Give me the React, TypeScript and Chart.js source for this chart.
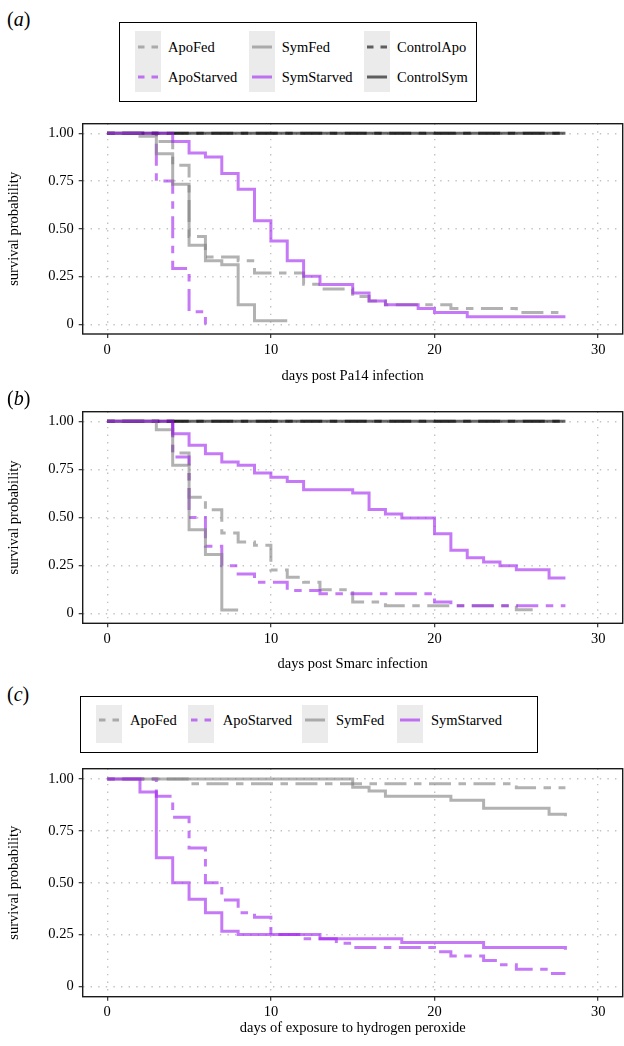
import React, { useEffect, useRef } from "react";
import { Chart, registerables } from "chart.js";

Chart.register(...registerables);

const FONT = '"Liberation Serif", "Times New Roman", serif';

// ---------- axes ----------
const xTicks = [0, 10, 20, 30];
const yTicks = [0, 0.25, 0.5, 0.75, 1];
const yTickLabels = ["0", "0.25", "0.50", "0.75", "1.00"];

// ---------- panel (a): Pa14 ----------
const aApoFedT = [0, 3, 4, 5, 6, 8, 9, 12, 13, 15, 16, 17, 21, 25, 28];
const aApoFedS = [1, 0.957, 0.833, 0.46, 0.353, 0.333, 0.269, 0.21, 0.186, 0.146, 0.122, 0.103, 0.083, 0.062, 0.062];
const aApoStarvedT = [0, 3, 4, 5, 6];
const aApoStarvedS = [1, 0.75, 0.293, 0.066, 0];
const aSymFedT = [0, 2, 3, 4, 5, 6, 7, 8, 9, 11];
const aSymFedS = [1, 0.984, 0.893, 0.733, 0.414, 0.333, 0.312, 0.103, 0.019, 0.019];
const aSymStarvedT = [0, 4, 5, 6, 7, 8, 9, 10, 11, 12, 13, 15, 16, 17, 19, 20, 22, 28];
const aSymStarvedS = [1, 0.957, 0.897, 0.876, 0.79, 0.707, 0.543, 0.436, 0.333, 0.252, 0.209, 0.164, 0.122, 0.103, 0.083, 0.062, 0.04, 0.04];
const aControlApoT = [0, 28];
const aControlApoS = [1, 1];
const aControlSymT = [0, 28];
const aControlSymS = [1, 1];

// ---------- panel (b): Smarc ----------
const bApoFedT = [0, 4, 5, 6, 7, 8, 9, 10, 11, 12, 13, 15, 17, 25, 26];
const bApoFedS = [1, 0.835, 0.605, 0.54, 0.42, 0.373, 0.356, 0.227, 0.189, 0.164, 0.124, 0.061, 0.041, 0.02, 0.02];
const bApoStarvedT = [0, 4, 5, 6, 7, 8, 9, 11, 13, 20, 21, 28];
const bApoStarvedS = [1, 0.814, 0.5, 0.351, 0.249, 0.206, 0.164, 0.121, 0.104, 0.061, 0.041, 0.041];
const bSymFedT = [0, 3, 4, 5, 6, 7, 8];
const bSymFedS = [1, 0.956, 0.772, 0.436, 0.308, 0.019, 0.019];
const bSymStarvedT = [0, 4, 5, 6, 7, 8, 9, 10, 11, 12, 15, 16, 17, 18, 20, 21, 22, 23, 24, 25, 27, 28];
const bSymStarvedS = [1, 0.935, 0.876, 0.831, 0.789, 0.772, 0.731, 0.709, 0.687, 0.644, 0.627, 0.542, 0.518, 0.497, 0.416, 0.33, 0.291, 0.269, 0.249, 0.228, 0.186, 0.186];
const bControlApoT = [0, 28];
const bControlApoS = [1, 1];
const bControlSymT = [0, 28];
const bControlSymS = [1, 1];

// ---------- panel (c): hydrogen peroxide ----------
const cApoFedT = [0, 5, 25, 28];
const cApoFedS = [1, 0.977, 0.958, 0.958];
const cApoStarvedT = [0, 3, 4, 5, 6, 7, 8, 9, 10, 12, 14, 15, 20, 21, 23, 24, 25, 27, 28];
const cApoStarvedS = [1, 0.917, 0.816, 0.667, 0.5, 0.417, 0.355, 0.333, 0.25, 0.23, 0.208, 0.1875, 0.167, 0.146, 0.125, 0.104, 0.083, 0.0625, 0.0625];
const cSymFedT = [0, 15, 16, 17, 21, 23, 27, 28];
const cSymFedS = [1, 0.96, 0.942, 0.917, 0.898, 0.859, 0.83, 0.82];
const cSymStarvedT = [0, 2, 3, 4, 5, 6, 7, 8, 13, 18, 23, 28];
const cSymStarvedS = [1, 0.9375, 0.62, 0.5, 0.42, 0.355, 0.266, 0.25, 0.23, 0.211, 0.1875, 0.177];

// ---------- styles ----------
const GRAY = "rgba(127,127,127,0.6)";
const PURPLE = "rgba(160,32,240,0.6)";
const DARK = "rgba(0,0,0,0.6)";
const TWODASH = [7.5, 7.5, 22, 7.5];
const SOLID: number[] = [];

type Series = { name: string; t: number[]; s: number[]; color: string; dash: number[] };

const mk = (name: string, t: number[], s: number[], color: string, dash: number[]): Series => ({ name, t, s, color, dash });

const seriesA: Series[] = [
  mk("ApoFed", aApoFedT, aApoFedS, GRAY, TWODASH),
  mk("ApoStarved", aApoStarvedT, aApoStarvedS, PURPLE, TWODASH),
  mk("ControlApo", aControlApoT, aControlApoS, DARK, TWODASH),
  mk("ControlSym", aControlSymT, aControlSymS, DARK, SOLID),
  mk("SymFed", aSymFedT, aSymFedS, GRAY, SOLID),
  mk("SymStarved", aSymStarvedT, aSymStarvedS, PURPLE, SOLID),
];
const seriesB: Series[] = [
  mk("ApoFed", bApoFedT, bApoFedS, GRAY, TWODASH),
  mk("ApoStarved", bApoStarvedT, bApoStarvedS, PURPLE, TWODASH),
  mk("ControlApo", bControlApoT, bControlApoS, DARK, TWODASH),
  mk("ControlSym", bControlSymT, bControlSymS, DARK, SOLID),
  mk("SymFed", bSymFedT, bSymFedS, GRAY, SOLID),
  mk("SymStarved", bSymStarvedT, bSymStarvedS, PURPLE, SOLID),
];
const seriesC: Series[] = [
  mk("ApoFed", cApoFedT, cApoFedS, GRAY, TWODASH),
  mk("ApoStarved", cApoStarvedT, cApoStarvedS, PURPLE, TWODASH),
  mk("SymFed", cSymFedT, cSymFedS, GRAY, SOLID),
  mk("SymStarved", cSymStarvedT, cSymStarvedS, PURPLE, SOLID),
];

const framePlugin = {
  id: "frame",
  afterDraw(chart: any) {
    const { ctx, chartArea: a } = chart;
    ctx.save();
    ctx.setLineDash([]);
    ctx.strokeStyle = "#1a1a1a";
    ctx.lineWidth = 1.4;
    ctx.strokeRect(a.left, a.top, a.right - a.left, a.bottom - a.top);
    ctx.restore();
  },
};

type PanelProps = {
  top: number;
  height: number;
  chartTop: number;
  chartBottom: number;
  series: Series[];
  xTitle: string;
};

const CHART_LEFT = 82.7;
const CHART_RIGHT = 622.7;
const FS = 14.5;

function SurvivalPanel({ top, height, chartTop, chartBottom, series, xTitle }: PanelProps) {
  const ref = useRef<HTMLCanvasElement>(null);
  useEffect(() => {
    const font = { family: FONT, size: FS };
    const grid = {
      color: "#c2c2c2",
      lineWidth: 1.4,
      drawTicks: true,
      tickLength: 4,
      tickColor: "#222",
      tickWidth: 1.1,
      tickBorderDash: [],
    };
    const chart = new Chart(ref.current as HTMLCanvasElement, {
      type: "line",
      data: {
        datasets: series
          .slice()
          .reverse()
          .map((s) => ({
            label: s.name,
            data: s.t.map((t, i) => ({ x: t, y: s.s[i] })),
            borderColor: s.color,
            backgroundColor: s.color,
            borderWidth: 3,
            borderDash: s.dash,
            borderCapStyle: "butt",
            borderJoinStyle: "miter",
            stepped: true,
            pointRadius: 0,
            fill: false,
            tension: 0,
          })),
      },
      options: {
        animation: false,
        responsive: false,
        maintainAspectRatio: false,
        devicePixelRatio: 1,
        events: [],
        layout: { padding: { top: chartTop - top, right: 624 - CHART_RIGHT, left: 0, bottom: 0 } },
        plugins: { legend: { display: false }, tooltip: { enabled: false }, title: { display: false } },
        scales: {
          x: {
            type: "linear",
            min: -1.5,
            max: 31.5,
            afterBuildTicks: (s: any) => {
              s.ticks = xTicks.map((v) => ({ value: v }));
            },
            afterFit: (s: any) => {
              s.height = top + height - chartBottom;
            },
            ticks: { font, color: "#000", padding: 3, maxRotation: 0, autoSkip: false, callback: (v: any) => String(v) },
            grid,
            border: { display: false, dash: [1.4, 6.2] },
            title: { display: true, text: xTitle, font, color: "#000", padding: { top: 0, bottom: 2.3 } },
          },
          y: {
            type: "linear",
            min: -0.05,
            max: 1.05,
            afterBuildTicks: (s: any) => {
              s.ticks = yTicks.map((v) => ({ value: v }));
            },
            afterFit: (s: any) => {
              s.width = CHART_LEFT;
            },
            ticks: {
              font,
              color: "#000",
              padding: 5,
              autoSkip: false,
              callback: (v: any) => yTickLabels[yTicks.indexOf(v)] ?? "",
            },
            grid,
            border: { display: false, dash: [1.4, 6.2] },
            title: { display: true, text: "survival probability", font, color: "#000", padding: { top: 5.3, bottom: 0 } },
          },
        },
      } as any,
      plugins: [framePlugin],
    });
    return () => chart.destroy();
  }, []);
  return (
    <canvas
      ref={ref}
      width={624}
      height={height}
      style={{ position: "absolute", left: 0, top, width: 624, height, display: "block" }}
    />
  );
}

type LegendItem = { name: string; color: string; dash: number[] };

function KeyStrip({ x, y, h }: { x: number; y: number; h: number }) {
  return <div style={{ position: "absolute", left: x, top: y, width: 26, height: h, background: "#ebebeb" }} />;
}

function KeyLine({ x, cy, item }: { x: number; cy: number; item: LegendItem }) {
  const dashStr = item.dash.length ? "6.5 7 22 7" : undefined;
  return (
    <svg style={{ position: "absolute", left: x, top: cy - 5 }} width={26} height={10}>
      <line x1={3} y1={5} x2={23} y2={5} stroke={item.color} strokeWidth={3} strokeDasharray={dashStr} />
    </svg>
  );
}

function Label({ x, cy, text, size = FS }: { x: number; cy: number; text: React.ReactNode; size?: number }) {
  return (
    <div
      style={{
        position: "absolute",
        left: x,
        top: cy - 10,
        height: 20,
        lineHeight: "20px",
        fontSize: size,
        fontFamily: FONT,
        color: "#000",
        whiteSpace: "nowrap",
      }}
    >
      {text}
    </div>
  );
}

function PanelTag({ letter, cy }: { letter: string; cy: number }) {
  return (
    <div
      style={{
        position: "absolute",
        left: 7,
        top: cy - 12,
        height: 24,
        lineHeight: "24px",
        fontSize: 20,
        fontFamily: FONT,
        color: "#000",
      }}
    >
      (<i>{letter}</i>)
    </div>
  );
}

const legendAItems: LegendItem[] = [
  { name: "ApoFed", color: GRAY, dash: TWODASH },
  { name: "ApoStarved", color: PURPLE, dash: TWODASH },
  { name: "SymFed", color: GRAY, dash: SOLID },
  { name: "SymStarved", color: PURPLE, dash: SOLID },
  { name: "ControlApo", color: DARK, dash: TWODASH },
  { name: "ControlSym", color: DARK, dash: SOLID },
];
const legendCItems: LegendItem[] = [
  { name: "ApoFed", color: GRAY, dash: TWODASH },
  { name: "ApoStarved", color: PURPLE, dash: TWODASH },
  { name: "SymFed", color: GRAY, dash: SOLID },
  { name: "SymStarved", color: PURPLE, dash: SOLID },
];

function LegendA() {
  const cols = [
    { kx: 135.3, tx: 168 },
    { kx: 248.7, tx: 281.7 },
    { kx: 364, tx: 397 },
  ];
  const rows = [46.7, 76.7];
  return (
    <>
      <div
        style={{
          position: "absolute",
          left: 119,
          top: 22,
          width: 358,
          height: 80,
          border: "1.4px solid #000",
          boxSizing: "border-box",
        }}
      />
      {cols.map((c, ci) => (
        <React.Fragment key={ci}>
          <KeyStrip x={c.kx} y={31} h={61} />
          {rows.map((cy, ri) => {
            const item = legendAItems[ci * 2 + ri];
            return (
              <React.Fragment key={ri}>
                <KeyLine x={c.kx} cy={cy} item={item} />
                <Label x={c.tx} cy={cy} text={item.name} />
              </React.Fragment>
            );
          })}
        </React.Fragment>
      ))}
    </>
  );
}

function LegendC() {
  const cols = [
    { kx: 96.3, tx: 130 },
    { kx: 188.3, tx: 222.7 },
    { kx: 302.3, tx: 336 },
    { kx: 397, tx: 431 },
  ];
  const cy = 720;
  return (
    <>
      <div
        style={{
          position: "absolute",
          left: 80,
          top: 696,
          width: 458,
          height: 57,
          border: "1.4px solid #000",
          boxSizing: "border-box",
        }}
      />
      {cols.map((c, ci) => (
        <React.Fragment key={ci}>
          <KeyStrip x={c.kx} y={705} h={38} />
          <KeyLine x={c.kx} cy={cy} item={legendCItems[ci]} />
          <Label x={c.tx} cy={cy} text={legendCItems[ci].name} />
        </React.Fragment>
      ))}
    </>
  );
}

export default function App() {
  return (
    <div
      style={{
        position: "absolute",
        left: 0,
        top: 0,
        width: 624,
        height: 1046,
        background: "#fff",
        overflow: "hidden",
        fontFamily: FONT,
      }}
    >
      <PanelTag letter="a" cy={19} />
      <LegendA />
      <SurvivalPanel top={110} height={277} chartTop={121.7} chartBottom={334} series={seriesA} xTitle="days post Pa14 infection" />
      <PanelTag letter="b" cy={398} />
      <SurvivalPanel top={398} height={277} chartTop={408.3} chartBottom={623.3} series={seriesB} xTitle="days post Smarc infection" />
      <PanelTag letter="c" cy={694} />
      <LegendC />
      <SurvivalPanel top={755} height={284} chartTop={762.7} chartBottom={996.7} series={seriesC} xTitle="days of exposure to hydrogen peroxide" />
    </div>
  );
}
